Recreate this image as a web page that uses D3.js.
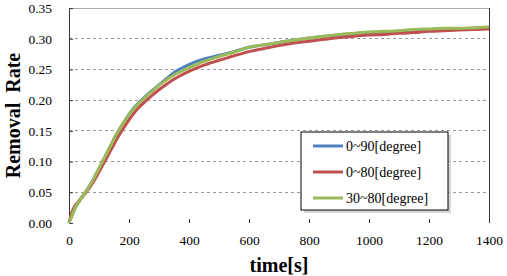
<!DOCTYPE html>
<html><head><meta charset="utf-8">
<script src="https://cdn.jsdelivr.net/npm/d3@7"></script>
<style>body{margin:0;background:#fff}svg{display:block}</style>
</head><body>
<script>
const times = [0,10,20,30,40,50,60,80,100,120,140,160,180,200,225,250,275,300,325,350,375,400,425,450,475,500,550,600,650,700,750,800,850,900,950,1000,1050,1100,1150,1200,1250,1300,1350,1400];
const blue  = [0,0.012,0.024,0.032,0.040,0.047,0.054,0.070,0.089,0.108,0.127,0.146,0.162,0.177,0.192,0.204,0.215,0.225,0.235,0.245,0.252,0.258,0.263,0.267,0.270,0.273,0.279,0.286,0.290,0.294,0.298,0.301,0.304,0.306,0.308,0.310,0.311,0.312,0.314,0.315,0.316,0.316,0.317,0.318];
const red   = [0,0.018,0.028,0.034,0.040,0.046,0.052,0.066,0.083,0.101,0.119,0.137,0.153,0.168,0.184,0.196,0.207,0.217,0.226,0.234,0.241,0.247,0.252,0.257,0.261,0.265,0.272,0.279,0.284,0.289,0.293,0.296,0.299,0.302,0.304,0.306,0.307,0.309,0.310,0.312,0.313,0.314,0.315,0.316];
const green = [0,0.012,0.024,0.032,0.040,0.047,0.054,0.070,0.089,0.108,0.127,0.146,0.162,0.176,0.191,0.203,0.214,0.224,0.233,0.241,0.247,0.253,0.258,0.263,0.267,0.271,0.278,0.286,0.290,0.294,0.298,0.301,0.304,0.307,0.309,0.311,0.312,0.313,0.315,0.316,0.317,0.317,0.318,0.319];
const seriesNames = ["0~90[degree]","0~80[degree]","30~80[degree]"];
const colors = ["#4F81BD","#C0504D","#9BBB59"];
const xTicks = [0,200,400,600,800,1000,1200,1400];
const yTicks = [0,0.05,0.10,0.15,0.20,0.25,0.30,0.35];

const FONT='"Liberation Serif"';
const W=507,H=276;
const m={l:69,r:18,t:8,b:53};
const svg=d3.select("body").append("svg").attr("width",W).attr("height",H);
const x=d3.scaleLinear().domain([0,1400]).range([m.l,W-m.r]);
const y=d3.scaleLinear().domain([0,0.35]).range([H-m.b,m.t]);

// gridlines
svg.append("g").selectAll("line").data(yTicks.filter(d=>d>0&&d<0.35)).join("line")
  .attr("x1",x(0)).attr("x2",x(1400)).attr("y1",d=>y(d)).attr("y2",d=>y(d))
  .attr("stroke","#9a9a9a").attr("stroke-dasharray","3,3").attr("stroke-width",1).attr("shape-rendering","crispEdges");
// frame top
svg.append("line").attr("x1",x(0)).attr("x2",x(1400)).attr("y1",y(0.35)).attr("y2",y(0.35))
  .attr("stroke","#aaa").attr("shape-rendering","crispEdges");
// right border
svg.append("line").attr("x1",x(1400)).attr("x2",x(1400)).attr("y1",y(0.35)).attr("y2",y(0))
  .attr("stroke","#333").attr("shape-rendering","crispEdges");

// y axis
const ya=svg.append("g").attr("transform",`translate(${x(0)},0)`)
  .call(d3.axisLeft(y).tickValues(yTicks).tickFormat(d3.format(".2f")).tickSize(-4).tickPadding(17));
ya.attr("font-family",null).style("font-family",FONT);
ya.select(".domain").attr("stroke","#333");
ya.selectAll("text").style("font-family",FONT).style("font-size","13.5px").attr("fill","#000");
ya.selectAll(".tick line").attr("stroke","#333");
ya.selectAll(".tick").filter(d=>d===0||d===0.35).select("line").remove();

// x axis (no domain line)
const xa=svg.append("g").attr("transform",`translate(0,${y(0)})`)
  .call(d3.axisBottom(x).tickValues(xTicks).tickFormat(d3.format("d")).tickSize(-4).tickPadding(12));
xa.attr("font-family",null).style("font-family",FONT);
xa.select(".domain").remove();
xa.selectAll("text").style("font-family",FONT).style("font-size","13.5px").attr("fill","#000");
xa.selectAll(".tick line").attr("stroke","#333");
xa.selectAll(".tick").filter(d=>d===0||d===1400).select("line").remove();

// lines
const data=[blue,red,green];
const line=d3.line().x((d,i)=>x(times[i])).y(d=>y(d)).curve(d3.curveMonotoneX);
svg.append("g").selectAll("path").data(data).join("path")
  .attr("d",line).attr("fill","none").attr("stroke",(d,i)=>colors[i]).attr("stroke-width",3);

// axis titles
svg.append("text").attr("transform",`translate(20,${(y(0)+y(0.35))/2}) rotate(-90)`)
  .attr("text-anchor","middle").style("font-family",FONT).style("font-weight","bold").style("font-size","20px")
  .style("white-space","pre").text("Removal  Rate");
svg.append("text").attr("x",(x(0)+x(1400))/2).attr("y",272).attr("text-anchor","middle")
  .style("font-family",FONT).style("font-weight","bold").style("font-size","20px").text("time[s]");

// legend
const lg=svg.append("g").attr("transform","translate(301,132)");
lg.append("rect").attr("x",3).attr("y",3).attr("width",147).attr("height",78).attr("fill","#bbb").attr("opacity",0.6);
lg.append("rect").attr("width",147).attr("height",78).attr("fill","#fff").attr("stroke","#000").attr("stroke-width",1);
seriesNames.forEach((n,i)=>{
  const yy=14+i*26;
  lg.append("line").attr("x1",12).attr("x2",42).attr("y1",yy).attr("y2",yy).attr("stroke",colors[i]).attr("stroke-width",3);
  lg.append("text").attr("x",45).attr("y",yy+5).style("font-family",FONT).style("font-size","14px").attr("fill","#000").text(n);
});
</script>
</body></html>
